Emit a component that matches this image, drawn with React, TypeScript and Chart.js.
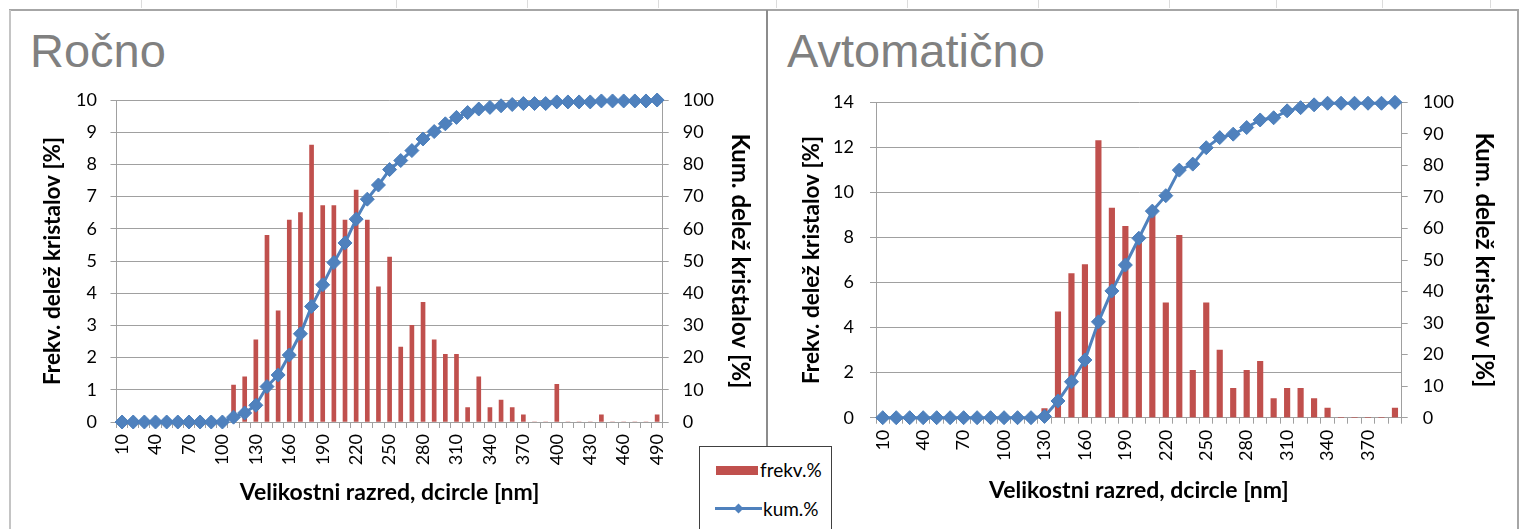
import React, { useEffect, useRef } from 'react';
import { Chart, registerables } from 'chart.js';

Chart.register(...registerables);

// ---------- data: Ročno ----------
const leftCategories = [
  '10', '20', '30', '40', '50', '60', '70', '80', '90', '100',
  '110', '120', '130', '140', '150', '160', '170', '180', '190', '200',
  '210', '220', '230', '240', '250', '260', '270', '280', '290', '300',
  '310', '320', '330', '340', '350', '360', '370', '380', '390', '400',
  '410', '420', '430', '440', '450', '460', '470', '480', '490',
];
const leftFreq = [
  0, 0, 0, 0, 0, 0, 0, 0, 0, 0,
  1.15, 1.4, 2.55, 5.8, 3.45, 6.27, 6.5, 8.6, 6.72, 6.72,
  6.27, 7.2, 6.27, 4.2, 5.12, 2.33, 3.0, 3.72, 2.55, 2.1,
  2.1, 0.45, 1.4, 0.45, 0.68, 0.45, 0.22, 0, 0, 1.17,
  0, 0, 0, 0.22, 0, 0, 0, 0, 0.22,
];
const leftCum = [
  0, 0, 0, 0, 0, 0, 0, 0, 0, 0,
  1.5, 2.8, 5.2, 11, 14.6, 20.8, 27.4, 35.9, 42.6, 49.5,
  55.6, 63, 69.2, 73.6, 78.4, 81.2, 84.3, 87.9, 90.2, 92.6,
  94.6, 96.1, 97.2, 97.7, 98.2, 98.6, 98.9, 98.9, 98.9, 99.4,
  99.4, 99.4, 99.4, 99.7, 99.7, 99.7, 99.7, 99.7, 100,
];

// ---------- data: Avtomatično ----------
const rightCategories = [
  '10', '20', '30', '40', '50', '60', '70', '80', '90', '100',
  '110', '120', '130', '140', '150', '160', '170', '180', '190', '200',
  '210', '220', '230', '240', '250', '260', '270', '280', '290', '300',
  '310', '320', '330', '340', '350', '360', '370', '380', '390',
];
const rightFreq = [
  0, 0, 0, 0, 0, 0, 0, 0, 0, 0,
  0, 0, 0.4, 4.7, 6.4, 6.8, 12.3, 9.3, 8.5, 7.8,
  9.0, 5.1, 8.1, 2.1, 5.1, 3.0, 1.3, 2.1, 2.5, 0.85,
  1.3, 1.3, 0.85, 0.43, 0, 0, 0, 0, 0.43,
];
const rightCum = [
  0, 0, 0, 0, 0, 0, 0, 0, 0, 0,
  0, 0, 0.4, 5.3, 11.4, 18.3, 30.4, 40.2, 48.4, 56.9,
  65.5, 70.4, 78.5, 80.4, 85.6, 88.8, 89.9, 92.0, 94.4, 95.1,
  97.3, 98.3, 99.2, 99.7, 99.7, 99.7, 99.7, 99.7, 100,
];

const freqLabel = 'frekv.%';
const cumLabel = 'kum.%';
const xTitle = 'Velikostni razred, dcircle [nm]';
const yTitle = 'Frekv. delež kristalov [%]';
const y1Title = 'Kum. delež kristalov [%]';

const FONT = 'Lato, Calibri, "Open Sans", sans-serif';
const GRID = '#a0a0a0';
const BAR = '#c0504d';
const LINE = '#4f81bd';

type Panel = {
  categories: string[];
  freq: number[];
  cum: number[];
  yMax: number;
  yStep: number;
  barThickness: number;
  padL: number; padR: number; padT: number; padB: number;
  yW: number; y1W: number; xH: number;
  yPad: number; y1Pad: number;
};

function makeConfig(p: Panel): any {
  const tickFont = { family: FONT, size: 18 };
  const titleFont = (size: number) => ({ family: FONT, size, weight: 'bold' as const });
  return {
    type: 'bar',
    data: {
      labels: p.categories,
      datasets: [
        {
          type: 'line',
          label: cumLabel,
          data: p.cum,
          yAxisID: 'y1',
          borderColor: LINE,
          backgroundColor: LINE,
          borderWidth: 3,
          pointStyle: 'rectRot',
          pointRadius: 7,
          pointBorderWidth: 1,
          pointBorderColor: '#4a7ebb',
          pointBackgroundColor: LINE,
          tension: 0,
          clip: false,
          order: 0,
        },
        {
          type: 'bar',
          label: freqLabel,
          data: p.freq,
          yAxisID: 'y',
          backgroundColor: BAR,
          borderWidth: 0,
          barThickness: p.barThickness,
          order: 1,
        },
      ],
    },
    options: {
      responsive: false,
      animation: false,
      events: [],
      layout: { padding: { left: p.padL, right: p.padR, top: p.padT, bottom: p.padB } },
      plugins: { legend: { display: false }, tooltip: { enabled: false } },
      scales: {
        x: {
          type: 'category',
          offset: true,
          grid: { display: true, drawOnChartArea: false, drawTicks: true, tickLength: 6, color: GRID, offset: true },
          border: { display: true, color: GRID },
          ticks: {
            autoSkip: false,
            minRotation: 90,
            maxRotation: 90,
            padding: 6,
            color: '#000',
            font: tickFont,
            callback: (_v: any, i: number) => (i % 3 === 0 ? p.categories[i] : ''),
          },
          title: { display: true, text: xTitle, color: '#000', font: titleFont(23), padding: { top: 4, bottom: 4 } },
          afterFit: (s: any) => { s.height = p.xH; },
        },
        y: {
          position: 'left',
          min: 0,
          max: p.yMax,
          ticks: { stepSize: p.yStep, padding: p.yPad, color: '#000', font: tickFont },
          grid: { color: GRID, lineWidth: 1, drawTicks: true, tickLength: 6 },
          border: { display: true, color: GRID },
          title: { display: true, text: yTitle, color: '#000', font: titleFont(22.5), padding: { top: 4, bottom: 4 } },
          afterFit: (s: any) => { s.width = p.yW; },
        },
        y1: {
          position: 'right',
          min: 0,
          max: 100,
          ticks: { stepSize: 10, padding: p.y1Pad, color: '#000', font: tickFont },
          grid: { drawOnChartArea: false, color: GRID, drawTicks: true, tickLength: 6 },
          border: { display: true, color: GRID },
          title: { display: true, text: y1Title, color: '#000', font: titleFont(24), padding: { top: 4, bottom: 4 } },
          afterFit: (s: any) => { s.width = p.y1W; },
        },
      },
    },
  };
}

function ChartCanvas({ left, width, panel }: { left: number; width: number; panel: Panel }) {
  const ref = useRef<HTMLCanvasElement>(null);
  useEffect(() => {
    const chart = new Chart(ref.current as HTMLCanvasElement, makeConfig(panel));
    return () => chart.destroy();
  }, []);
  return (
    <canvas
      ref={ref}
      width={width}
      height={529}
      style={{ position: 'absolute', left, top: 0, width, height: 529, display: 'block' }}
    />
  );
}

const leftPanel: Panel = {
  categories: leftCategories, freq: leftFreq, cum: leftCum,
  yMax: 10, yStep: 1, barThickness: 4,
  padL: 35.5, padR: 7.6, padT: 100, padB: 18.2,
  yW: 81, y1W: 95.7, xH: 88.8, yPad: 13.5, y1Pad: 14,
};

const rightPanel: Panel = {
  categories: rightCategories, freq: rightFreq, cum: rightCum,
  yMax: 14, yStep: 2, barThickness: 5.5,
  padL: 27.5, padR: 18.6, padT: 102.3, padB: 20.2,
  yW: 81.5, y1W: 100.7, xH: 91.1, yPad: 16, y1Pad: 15,
};

const topTicks = [141, 396, 527, 658, 776, 907, 1038, 1169, 1276, 1382, 1490];

export default function App() {
  const titleStyle: React.CSSProperties = {
    position: 'absolute',
    top: 27,
    fontFamily: '"Liberation Sans", Arial, sans-serif',
    fontSize: 47,
    lineHeight: '47px',
    color: '#808080',
    whiteSpace: 'nowrap',
  };
  const legendText: React.CSSProperties = {
    position: 'absolute',
    fontFamily: FONT,
    fontSize: 19,
    lineHeight: '20px',
    color: '#000',
    whiteSpace: 'nowrap',
  };
  return (
    <div style={{ position: 'fixed', left: 0, top: 0, width: 1521, height: 529, background: '#fff', overflow: 'hidden' }}>
      {topTicks.map((x) => (
        <div key={x} style={{ position: 'absolute', left: x, top: 0, width: 1, height: 8, background: '#dcdcdc' }} />
      ))}
      <div style={{ position: 'absolute', left: 9, top: 9, width: 1510, height: 2, background: '#a6a6a6' }} />
      <div style={{ position: 'absolute', left: 9, top: 10, width: 1.5, height: 519, background: '#c4c4c4' }} />
      <div style={{ position: 'absolute', left: 1517, top: 10, width: 1.5, height: 519, background: '#a6a6a6' }} />
      <div style={{ position: 'absolute', left: 766, top: 10, width: 1.5, height: 436, background: '#8c8c8c' }} />

      <div style={{ ...titleStyle, left: 30 }}>Ročno</div>
      <div style={{ ...titleStyle, left: 787 }}>Avtomatično</div>

      <ChartCanvas left={0} width={766} panel={leftPanel} />
      <ChartCanvas left={767} width={754} panel={rightPanel} />

      <div style={{ position: 'absolute', left: 699, top: 446, width: 131, height: 100, border: '1.5px solid #404040', background: '#fff' }} />
      <div style={{ position: 'absolute', left: 716, top: 466, width: 42, height: 9, background: BAR }} />
      <div style={{ ...legendText, left: 760, top: 460 }}>{freqLabel}</div>
      <div style={{ position: 'absolute', left: 715, top: 507, width: 47, height: 3, background: LINE }} />
      <div style={{ position: 'absolute', left: 735, top: 504.5, width: 7, height: 7, background: LINE, transform: 'rotate(45deg)' }} />
      <div style={{ ...legendText, left: 763, top: 499 }}>{cumLabel}</div>
    </div>
  );
}
